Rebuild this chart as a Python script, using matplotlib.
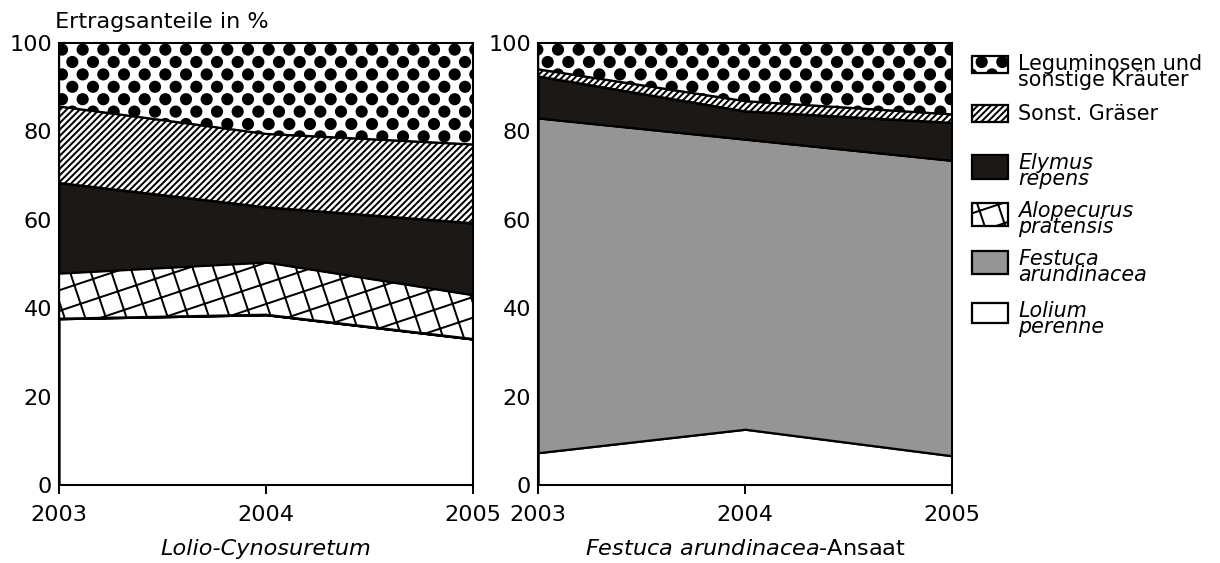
import numpy as np
import matplotlib
matplotlib.use("Agg")
import matplotlib.pyplot as plt
import matplotlib.hatch as mhatch
from matplotlib.path import Path
from matplotlib.patches import Rectangle

# ---------------- data (Ertragsanteile in %) ----------------
years = [2003, 2004, 2005]
year_labels = ["2003", "2004", "2005"]
y_ticks = [0, 20, 40, 60, 80, 100]

# Lolio-Cynosuretum
lc_lolium = [37.6, 38.5, 33.0]
lc_festuca = [0.0, 0.0, 0.0]
lc_alopecurus = [10.3, 11.9, 10.0]
lc_elymus = [20.4, 12.4, 16.2]
lc_graeser = [17.3, 16.6, 17.8]
lc_legum = [14.4, 20.6, 23.0]

# Festuca arundinacea-Ansaat
fa_lolium = [7.3, 12.6, 6.6]
fa_festuca = [75.7, 65.6, 66.8]
fa_alopecurus = [0.0, 0.0, 0.0]
fa_elymus = [9.4, 6.3, 8.5]
fa_graeser = [1.6, 2.3, 1.9]
fa_legum = [6.0, 13.2, 16.2]

panel_titles = ["Lolio-Cynosuretum", r"$\mathit{Festuca\ arundinacea}$-Ansaat"]
legend_labels = ["Leguminosen und\nsonstige Kräuter", "Sonst. Gräser",
                 "Elymus\nrepens", "Alopecurus\npratensis",
                 "Festuca\narundinacea", "Lolium\nperenne"]
legend_italic = [False, False, True, True, True, True]
ylabel_text = "Ertragsanteile in %"


# ---------------- custom hatch textures ----------------
class DotGrid(mhatch.HatchPatternBase):
    """Staggered filled dots (for '.')."""
    cols, rows, radius = 6, 10, 0.041

    def __init__(self, hatch, density):
        circ = Path.unit_circle()
        self.cv, self.cc = circ.vertices, circ.codes
        if hatch.count('.'):
            n = sum(self.cols + 1 if r % 2 == 0 else self.cols
                    for r in range(self.rows + 1))
            self.num_vertices = n * len(self.cv)
        else:
            self.num_vertices = 0

    def set_vertices_and_codes(self, vertices, codes):
        vs, cs = [], []
        for r in range(self.rows + 1):
            yy = r / self.rows
            if r % 2 == 0:
                xs = np.arange(self.cols + 1) / self.cols
            else:
                xs = (np.arange(self.cols) + 0.5) / self.cols
            for xx in xs:
                vs.append(self.cv * self.radius + [xx, yy])
                cs.append(self.cc)
        vertices[:] = np.concatenate(vs)
        codes[:] = np.concatenate(cs)


class SkewGrid(mhatch.HatchPatternBase):
    """Tilted square grid (for '*')."""
    def __init__(self, hatch, density):
        self.segs = []
        if hatch.count('*'):
            for k in range(-8, 5):
                c = k / 2
                self.segs.append(((c - 1.5, -0.5), (c + 4.5, 1.5)))
            for k in range(-2, 11):
                c = k / 2
                self.segs.append(((-0.5, c + 1.5), (1.5, c - 4.5)))
        self.num_vertices = 2 * len(self.segs)

    def set_vertices_and_codes(self, vertices, codes):
        vertices[:] = np.array([p for s in self.segs for p in s])
        codes[:] = np.tile([Path.MOVETO, Path.LINETO], len(self.segs))


class DenseDiag(mhatch.HatchPatternBase):
    """Dense rising diagonal lines (for '/')."""
    n = 19

    def __init__(self, hatch, density):
        self.segs = []
        if hatch.count('/'):
            for k in range(-self.n - 2, self.n + 3):
                c = k / self.n
                self.segs.append(((c - 0.5, -0.5), (c + 1.5, 1.5)))
        self.num_vertices = 2 * len(self.segs)

    def set_vertices_and_codes(self, vertices, codes):
        vertices[:] = np.array([p for s in self.segs for p in s])
        codes[:] = np.tile([Path.MOVETO, Path.LINETO], len(self.segs))


mhatch._hatch_types[:] = [t for t in mhatch._hatch_types
                          if t not in (mhatch.SmallFilledCircles, mhatch.Stars,
                                       mhatch.NorthEastHatch)]
mhatch._hatch_types += [DotGrid, SkewGrid, DenseDiag]

plt.rcParams['font.family'] = ['DejaVu Sans']
plt.rcParams['font.size'] = 13
plt.rcParams['hatch.linewidth'] = 1.15
plt.rcParams['mathtext.fontset'] = 'dejavusans'

W, H, DPI = 1220, 563, 124
fig = plt.figure(figsize=((W + 0.25) / DPI, (H + 0.25) / DPI), dpi=DPI)


def fx(x):
    return x / W


def fy(y):
    return 1 - y / H


styles = [  # Lolium, Festuca, Alopecurus, Elymus, Gräser, Leguminosen
    dict(facecolor="white", hatch=None),
    dict(facecolor="#959595", hatch=None),
    dict(facecolor="white", hatch="*"),
    dict(facecolor="#1c1816", hatch=None),
    dict(facecolor="white", hatch="/"),
    dict(facecolor="white", hatch="."),
]

panels = [
    (59, [lc_lolium, lc_festuca, lc_alopecurus, lc_elymus, lc_graeser, lc_legum]),
    (538, [fa_lolium, fa_festuca, fa_alopecurus, fa_elymus, fa_graeser, fa_legum]),
]
ax_w, ax_top, ax_bot = 414, 43, 485

for i, (x0, series) in enumerate(panels):
    ax = fig.add_axes([fx(x0), fy(ax_bot), ax_w / W, (ax_bot - ax_top) / H])
    base = np.zeros(len(years))
    for vals, st in zip(series, styles):
        top = base + np.array(vals)
        ax.fill_between(years, base, top, facecolor=st["facecolor"],
                        hatch=st["hatch"], edgecolor="black", linewidth=1.3,
                        zorder=1)
        base = top
    ax.set_xlim(years[0], years[-1])
    ax.set_ylim(0, 100)
    ax.set_xticks(years)
    ax.set_xticklabels(year_labels)
    ax.set_yticks(y_ticks)
    ax.tick_params(axis='x', direction='out', length=5.2, width=1.15, pad=6,
                   labelsize=13)
    ax.tick_params(axis='y', length=0, pad=4, labelsize=13)
    for sp in ax.spines.values():
        sp.set_linewidth(1.2)
    style = 'italic' if i == 0 else 'normal'
    fig.text(fx(x0 + ax_w / 2), fy(549), panel_titles[i], ha='center',
             va='center', fontsize=13, fontstyle=style)

fig.text(fx(55), fy(22), ylabel_text, ha='left', va='center', fontsize=13)

# ---------------- legend ----------------
leg_styles = styles[::-1]
hx, hw, tx = 972, 36, 1018
handle_boxes = [(56, 17), (105, 17), (155, 24), (203, 23), (251, 23), (303, 20)]
for lab, ital, st, (top, hh) in zip(legend_labels, legend_italic, leg_styles,
                                    handle_boxes):
    fig.add_artist(Rectangle((fx(hx), fy(top + hh)), hw / W, hh / H,
                             transform=fig.transFigure,
                             facecolor=st["facecolor"], hatch=st["hatch"],
                             edgecolor="black", linewidth=1.3))
    if "\n" in lab:
        fig.text(fx(tx), fy(top - 2), lab, ha='left', va='top', fontsize=12,
                 fontstyle='italic' if ital else 'normal', linespacing=0.74)
    else:
        fig.text(fx(tx), fy(top + hh / 2), lab, ha='left', va='center',
                 fontsize=12, fontstyle='italic' if ital else 'normal')

fig.savefig("out.png", dpi=DPI)
